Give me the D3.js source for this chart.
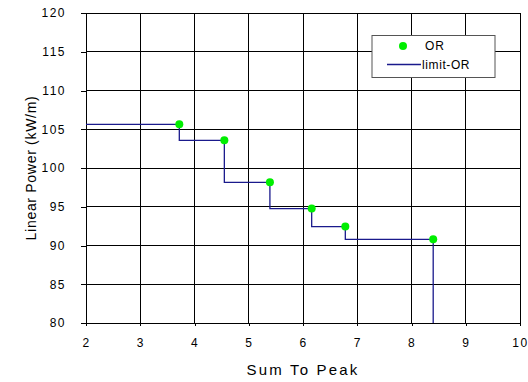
<!DOCTYPE html>
<html>
<head>
<meta charset="utf-8">
<script src="https://cdn.jsdelivr.net/npm/d3@7"></script>
<style>
  body { margin: 0; background: #fff; }
  svg text { font-family: "Liberation Sans", Arial, sans-serif; }
</style>
</head>
<body>
<div id="chart"></div>
<script>
// data
var orX = [3.72, 4.55, 5.39, 6.16, 6.78, 8.40];
var orY = [105.64, 103.57, 98.15, 94.76, 92.44, 90.8];
// limit line: step points (drawn with curveStepAfter)
var limitX = [2, 3.72, 4.55, 5.39, 6.16, 6.78, 8.40];
var limitY = [105.64, 103.57, 98.15, 94.76, 92.44, 90.8, 80];
var xTicks = [2, 3, 4, 5, 6, 7, 8, 9, 10];
var yTicks = [80, 85, 90, 95, 100, 105, 110, 115, 120];

var width = 528, height = 382;
var margin = { left: 86, right: 8, top: 13, bottom: 59 };

var svg = d3.select('#chart')
  .append('svg')
  .attr('width', width)
  .attr('height', height);

var x = d3.scaleLinear().domain([2, 10]).range([margin.left, width - margin.right]);
var y = d3.scaleLinear().domain([80, 120]).range([height - margin.bottom, margin.top]);

// grid
svg.append('g').selectAll('line')
  .data(xTicks).enter().append('line')
  .attr('x1', function(d) { return x(d); })
  .attr('x2', function(d) { return x(d); })
  .attr('y1', y(80)).attr('y2', y(120))
  .attr('stroke', '#000').attr('stroke-width', 1)
  .attr('shape-rendering', 'crispEdges');

svg.append('g').selectAll('line')
  .data(yTicks).enter().append('line')
  .attr('y1', function(d) { return y(d); })
  .attr('y2', function(d) { return y(d); })
  .attr('x1', x(2)).attr('x2', x(10))
  .attr('stroke', '#000').attr('stroke-width', 1)
  .attr('shape-rendering', 'crispEdges');

// axes
var xAxis = svg.append('g')
  .attr('transform', 'translate(0,' + y(80) + ')')
  .call(d3.axisBottom(x).tickValues(xTicks).tickSize(3).tickPadding(12).tickFormat(d3.format('d')));
var yAxis = svg.append('g')
  .attr('transform', 'translate(' + x(2) + ',0)')
  .call(d3.axisLeft(y).tickValues(yTicks).tickSize(5).tickPadding(15).tickFormat(d3.format('d')));

[xAxis, yAxis].forEach(function(a) {
  a.select('.domain').remove();
  a.selectAll('line').attr('stroke', '#000').attr('shape-rendering', 'crispEdges');
  a.selectAll('text').attr('font-size', 12).attr('fill', '#000')
    .attr('letter-spacing', '1.5px')
    .attr('font-family', '"Liberation Sans", Arial, sans-serif');
});

// limit step line
var pts = limitX.map(function(d, i) { return [d, limitY[i]]; });
var line = d3.line()
  .x(function(d) { return x(d[0]); })
  .y(function(d) { return y(d[1]); })
  .curve(d3.curveStepAfter);
svg.append('path')
  .datum(pts)
  .attr('d', line)
  .attr('fill', 'none')
  .attr('stroke', '#1a1a8c')
  .attr('stroke-width', 1.3);

// OR points
svg.append('g').selectAll('circle')
  .data(orX).enter().append('circle')
  .attr('cx', function(d) { return x(d); })
  .attr('cy', function(d, i) { return y(orY[i]); })
  .attr('r', 4)
  .attr('fill', '#00ee00');

// legend
var lg = svg.append('g');
lg.append('rect')
  .attr('x', 372).attr('y', 35.5).attr('width', 123).attr('height', 42)
  .attr('fill', '#fff').attr('stroke', '#555').attr('stroke-width', 1);
lg.append('circle').attr('cx', 403).attr('cy', 46).attr('r', 4).attr('fill', '#00ee00');
lg.append('text').attr('x', 425).attr('y', 50).attr('font-size', 12).attr('letter-spacing', '1px').text('OR');
lg.append('line').attr('x1', 387).attr('x2', 421).attr('y1', 64.5).attr('y2', 64.5)
  .attr('stroke', '#1a1a8c').attr('stroke-width', 1.3);
lg.append('text').attr('x', 422).attr('y', 69).attr('font-size', 12).attr('letter-spacing', '0.6px').text('limit-OR');

// axis titles
svg.append('text')
  .attr('x', 303).attr('y', 375)
  .attr('text-anchor', 'middle')
  .attr('font-size', 15)
  .attr('letter-spacing', '2.2px')
  .text('Sum To Peak');
svg.append('text')
  .attr('transform', 'translate(36,' + 168 + ') rotate(-90)')
  .attr('text-anchor', 'middle')
  .attr('font-size', 14)
  .attr('letter-spacing', '0.7px')
  .text('Linear Power (kW/m)');
</script>
</body>
</html>
